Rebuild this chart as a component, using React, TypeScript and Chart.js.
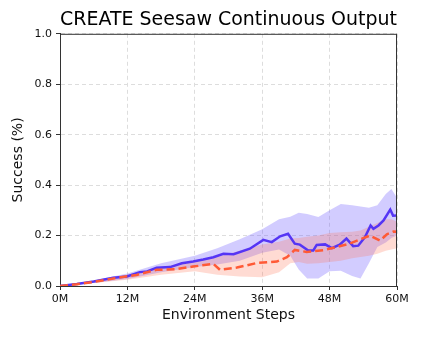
import React, { useEffect, useRef } from "react";
import { Chart, registerables } from "chart.js";

Chart.register(...registerables);

const TITLE = "CREATE Seesaw Continuous Output";
const X_LABEL = "Environment Steps";
const Y_LABEL = "Success (%)";

// steps in millions
const blueSteps = [0, 3, 6, 9.5, 11.9, 14.2, 15.5, 17.2, 19.6, 21.7, 23.7, 25.5, 27.3, 29.1, 30.9, 33.8, 36.2, 37.7, 39.2, 40.6, 41.8, 42.7, 44.2, 45.1, 45.7, 47.2, 48.4, 49.8, 51.0, 52.2, 53.1, 54.3, 55.3, 55.8, 56.7, 57.6, 58.8, 59.3, 60];
const blueMean = [0, 0.008, 0.018, 0.033, 0.038, 0.055, 0.058, 0.072, 0.075, 0.09, 0.097, 0.105, 0.114, 0.128, 0.126, 0.148, 0.183, 0.174, 0.197, 0.207, 0.168, 0.164, 0.141, 0.141, 0.163, 0.165, 0.15, 0.164, 0.188, 0.158, 0.16, 0.194, 0.24, 0.227, 0.24, 0.26, 0.303, 0.279, 0.28];

const orangeSteps = [0, 3, 6, 9.5, 13.6, 17.2, 20.7, 23.7, 27.3, 28.5, 31.5, 35, 38.6, 40.4, 41.8, 43.9, 46.9, 49.3, 51.6, 54, 55.2, 57, 58.2, 59.4, 60];
const orangeMean = [0, 0.007, 0.016, 0.03, 0.044, 0.064, 0.067, 0.077, 0.088, 0.064, 0.073, 0.091, 0.097, 0.114, 0.143, 0.135, 0.142, 0.155, 0.168, 0.19, 0.2, 0.18, 0.205, 0.216, 0.215];

const bandSteps = [0, 6, 12, 18, 24, 28, 32, 36, 39, 41, 42.5, 44, 46, 48, 50, 52, 53.5, 55, 56.5, 58, 59, 60];
const blueHigh = [0.002, 0.022, 0.05, 0.09, 0.12, 0.15, 0.185, 0.225, 0.265, 0.275, 0.29, 0.285, 0.274, 0.3, 0.325, 0.32, 0.315, 0.31, 0.32, 0.365, 0.385, 0.35];
const blueLow = [0, 0.012, 0.028, 0.055, 0.075, 0.085, 0.1, 0.132, 0.145, 0.12, 0.065, 0.03, 0.03, 0.058, 0.06, 0.04, 0.03, 0.09, 0.155, 0.172, 0.19, 0.2];
const orangeHigh = [0.001, 0.02, 0.045, 0.075, 0.095, 0.115, 0.14, 0.165, 0.175, 0.188, 0.19, 0.195, 0.2, 0.21, 0.213, 0.215, 0.22, 0.235, 0.25, 0.265, 0.265, 0.255];
const orangeLow = [0, 0.012, 0.025, 0.045, 0.058, 0.045, 0.038, 0.035, 0.055, 0.09, 0.095, 0.088, 0.09, 0.095, 0.1, 0.11, 0.115, 0.12, 0.128, 0.14, 0.145, 0.15];

const xTicks = [0, 12, 24, 36, 48, 60];
const yTicks = [0, 0.2, 0.4, 0.6, 0.8, 1.0];

const pts = (xs: number[], ys: number[]) => xs.map((x, i) => ({ x, y: ys[i] }));

const boxPlugin = {
  id: "box",
  afterDraw(chart: any) {
    const { ctx, chartArea } = chart;
    ctx.save();
    ctx.strokeStyle = "#333";
    ctx.lineWidth = 1;
    ctx.beginPath();
    ctx.moveTo(chartArea.left, chartArea.top + 0.5);
    ctx.lineTo(chartArea.right, chartArea.top + 0.5);
    ctx.moveTo(chartArea.right - 0.5, chartArea.top);
    ctx.lineTo(chartArea.right - 0.5, chartArea.bottom);
    ctx.stroke();
    ctx.restore();
  },
};

export default function App() {
  const ref = useRef<HTMLCanvasElement>(null);
  useEffect(() => {
    if (!ref.current) return;
    Chart.defaults.font.family = "'DejaVu Sans', sans-serif";
    Chart.defaults.color = "#222";
    const chart = new Chart(ref.current, {
      type: "line",
      data: {
        datasets: [
          {
            label: "blueHigh",
            data: pts(bandSteps, blueHigh),
            borderWidth: 0,
            pointRadius: 0,
            backgroundColor: "rgba(105,85,255,0.3)",
            fill: "+1",
            order: 5,
          },
          {
            label: "blueLow",
            data: pts(bandSteps, blueLow),
            borderWidth: 0,
            pointRadius: 0,
            fill: false,
            order: 5,
          },
          {
            label: "orangeHigh",
            data: pts(bandSteps, orangeHigh),
            borderWidth: 0,
            pointRadius: 0,
            backgroundColor: "rgba(255,110,80,0.25)",
            fill: "+1",
            order: 4,
          },
          {
            label: "orangeLow",
            data: pts(bandSteps, orangeLow),
            borderWidth: 0,
            pointRadius: 0,
            fill: false,
            order: 4,
          },
          {
            label: "orange",
            data: pts(orangeSteps, orangeMean),
            borderColor: "#ff5a36",
            borderWidth: 2.5,
            borderDash: [8, 4],
            pointRadius: 0,
            fill: false,
            order: 0,
          },
          {
            label: "blue",
            data: pts(blueSteps, blueMean),
            borderColor: "#5535f5",
            borderWidth: 2.5,
            pointRadius: 0,
            fill: false,
            order: 1,
          },
        ],
      },
      options: {
        animation: false,
        responsive: false,
        layout: { padding: { left: 0, right: 25, top: 0, bottom: 0 } },
        plugins: {
          legend: { display: false },
          tooltip: { enabled: false },
          title: {
            display: true,
            text: TITLE,
            fullSize: false,
            color: "#000",
            font: { size: 19, weight: "normal", lineHeight: 1.2 },
            padding: { top: 9, bottom: 2 },
          },
        },
        scales: {
          x: {
            type: "linear",
            min: 0,
            max: 60,
            afterFit: (s: any) => { s.height = 52; },
            afterBuildTicks: (s: any) => { s.ticks = xTicks.map((v) => ({ value: v })); },
            ticks: {
              callback: (v: any) => v + "M",
              font: { size: 11 },
              color: "#111",
              padding: 3,
              maxRotation: 0,
            },
            grid: {
              color: "#dddddd",
              tickColor: "#333",
              tickLength: 4,
              lineWidth: 1,
            },
            border: { color: "#333", width: 1, dash: [4, 3] },
            title: {
              display: true,
              text: X_LABEL,
              font: { size: 14, lineHeight: 1.2 },
              color: "#111",
              padding: { top: 0, bottom: 14 },
            },
          },
          y: {
            min: 0,
            max: 1,
            afterFit: (s: any) => { s.width = 60; },
            afterBuildTicks: (s: any) => { s.ticks = yTicks.map((v) => ({ value: v })); },
            ticks: {
              callback: (v: any) => Number(v).toFixed(1),
              font: { size: 11 },
              color: "#111",
              padding: 4,
            },
            grid: {
              color: "#dddddd",
              tickColor: "#333",
              tickLength: 4,
              lineWidth: 1,
            },
            border: { color: "#333", width: 1, dash: [4, 3] },
            title: {
              display: true,
              text: Y_LABEL,
              font: { size: 14, lineHeight: 1.2 },
              color: "#111",
              padding: { top: 10, bottom: 0 },
            },
          },
        },
      },
      plugins: [boxPlugin],
    } as any);
    return () => chart.destroy();
  }, []);
  return (
    <div style={{ position: "fixed", left: 0, top: 0, width: 422, height: 338, background: "#fff" }}>
      <canvas ref={ref} width={422} height={338} />
    </div>
  );
}
